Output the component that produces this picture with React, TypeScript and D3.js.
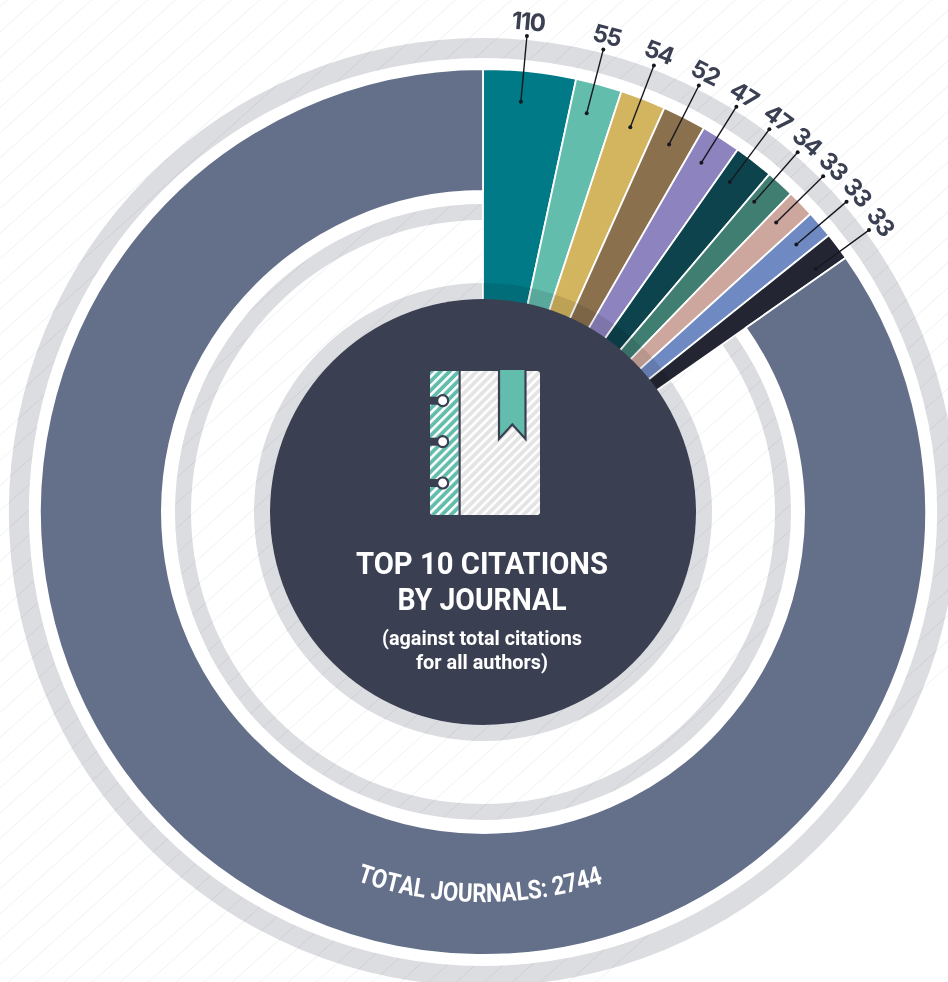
import React from "react";
import * as d3 from "d3";

const journalCounts = [110, 55, 54, 52, 47, 47, 34, 33, 33, 33];
const otherCount = 2744;
const sliceColors = ["#007a87", "#62bdad", "#d3b560", "#8b704e", "#8d84bf", "#0d434d", "#417e72", "#cda69e", "#6f8ac2", "#232533"];
const otherColor = "#64708a";
const leaderNudge = [-0.8, -0.6, -0.25, -0.2, -0.5, -0.9, -1.0, -0.5, 0, 0.7];
const titleLines = ["TOP 10 CITATIONS", "BY JOURNAL"];
const titleWidths = [252, 169];
const subLines = ["(against total citations", "for all authors)"];
const subWidths = [200, 132];
const totalLabel = "TOTAL JOURNALS: 2744";

const W = 948, H = 982, CX = 483, CY = 512;
const rad = (d: number) => (d * Math.PI) / 180;
const CONDENSED = "Roboto, sans-serif";

function arcChars(label: string, r: number, fromDeg: number, toDeg: number, size: number) {
  const ctx = document.createElement("canvas").getContext("2d")!;
  ctx.font = `700 ${size}px Roboto`;
  const widths = Array.from(label).map((c) => ctx.measureText(c).width);
  const total = d3.sum(widths);
  const arcLen = rad(toDeg - fromDeg) * r;
  const s = arcLen / total;
  let cum = 0;
  return Array.from(label).map((c, i) => {
    const mid = cum + (widths[i] * s) / 2;
    cum += widths[i] * s;
    const th = fromDeg + ((toDeg - fromDeg) * mid) / arcLen;
    return { c, s, th, x: CX + r * Math.sin(rad(th)), y: CY + r * Math.cos(rad(th)) };
  });
}

export default function App() {
  const pie = d3.pie<number>().sort(null).startAngle(0).endAngle(rad(357.9));
  const arcs = pie([...journalCounts, otherCount]);
  const arcGen = d3.arc<any>();
  const top = arcs.slice(0, 10);
  const rest = { ...arcs[10], endAngle: 2 * Math.PI };
  const ring = (a: number, b: number) => arcGen({ innerRadius: a, outerRadius: b, startAngle: 0, endAngle: 2 * Math.PI })!;
  const midDeg = (a: any) => (((a.startAngle + a.endAngle) / 2) * 180) / Math.PI;
  const polar = (r: number, d: number) => [r * Math.sin(rad(d)), -r * Math.cos(rad(d))];
  const hatch: number[] = d3.range(-25, 60).map((k) => 32 + 25.2 * k);
  const chars = arcChars(totalLabel, 390, -18.9, 18, 26);
  const multiply = { mixBlendMode: "multiply" as const };
  return (
    <svg width={W} height={H} viewBox={`0 0 ${W} ${H}`} style={{ position: "absolute", left: 0, top: 0, background: "#fff" }}>
      <defs>
        <pattern id="pm" width="6.4" height="6.4" patternUnits="userSpaceOnUse" patternTransform="rotate(45)">
          <rect width="6.4" height="6.4" fill="#62bdad" />
          <rect width="2.6" height="6.4" fill="#fff" />
        </pattern>
        <pattern id="pg" width="6.4" height="6.4" patternUnits="userSpaceOnUse" patternTransform="rotate(45)">
          <rect width="6.4" height="6.4" fill="#e4e4e5" />
          <rect width="2.6" height="6.4" fill="#fff" />
        </pattern>
      </defs>
      <rect width={W} height={H} fill="#fff" />
      <g stroke="#eef0f2" strokeWidth={1}>
        {hatch.map((c) => <line key={c} x1={0} y1={c} x2={W} y2={c - 0.9 * W} />)}
      </g>
      <g transform={`translate(${CX},${CY})`}>
        <path d={ring(442, 454)} fill="#fff" />
        <path d={ring(454, 474)} fill="#dcdde1" style={multiply} />
        <path d={ring(308, 442)} fill="#fff" />
        <path d={ring(292, 308)} fill="#dcdde1" style={multiply} />
        <path d={ring(213, 229)} fill="#dcdde1" style={multiply} />
        {top.map((a, i) => (
          <path key={i} d={arcGen({ ...a, innerRadius: 200, outerRadius: 443 })!} fill={sliceColors[i]} stroke="#fff" strokeWidth={1.8} />
        ))}
        <path d={arcGen({ ...rest, innerRadius: 321, outerRadius: 443 })!} fill={otherColor} stroke="#fff" strokeWidth={1.8} />
        <path d={arcGen({ innerRadius: 213, outerRadius: 229, startAngle: top[0].startAngle, endAngle: top[9].endAngle })!} fill="#000" fillOpacity={0.1} />
        <circle r={213} fill="#3b3f52" />
        {top.map((a, i) => {
          const d = midDeg(a) + leaderNudge[i];
          const [x1, y1] = polar(412, d);
          const [x2, y2] = polar(478, d);
          const [tx, ty] = polar(484, d);
          return (
            <g key={i}>
              <line x1={x1} y1={y1} x2={x2} y2={y2} stroke="#17181f" strokeWidth={1.4} />
              <circle cx={x1} cy={y1} r={2} fill="#17181f" />
              <circle cx={x2} cy={y2} r={2} fill="#17181f" />
              <text transform={`translate(${tx},${ty}) rotate(${d})`} textAnchor="middle" fontFamily="Inter" fontWeight={700} fontSize={24} letterSpacing={-1.2} fill="#3b3f52">{journalCounts[i]}</text>
            </g>
          );
        })}
      </g>
      <g>
        <rect x={430} y={371} width={110} height={144} rx={3} fill="url(#pg)" />
        <path d="M433 371 H458.5 V515 H433 a3 3 0 0 1 -3 -3 V374 a3 3 0 0 1 3 -3 Z" fill="url(#pm)" />
        <rect x={458.5} y={371} width={2.2} height={144} fill="#3b3f52" />
        <path d="M499 369 V439 L512.3 424.5 L525.5 439 V369 Z" fill="#62bdad" stroke="#3b3f52" strokeWidth={2.2} />
        {[400.7, 441.7, 483].map((y) => (
          <g key={y}>
            <rect x={430} y={y - 4} width={12} height={8} fill="#3b3f52" />
            <circle cx={442.7} cy={y} r={5.5} fill="#fff" stroke="#3b3f52" strokeWidth={2.2} />
          </g>
        ))}
      </g>
      <g fill="#fff" textAnchor="middle" fontFamily={CONDENSED} fontWeight={700}>
        {titleLines.map((t, i) => <text key={t} x={482} y={574 + i * 35.5} fontSize={32} textLength={titleWidths[i]} lengthAdjust="spacingAndGlyphs">{t}</text>)}
        {subLines.map((t, i) => <text key={t} x={482} y={645 + i * 23.5} fontSize={20} textLength={subWidths[i]} lengthAdjust="spacingAndGlyphs">{t}</text>)}
      </g>
      <g fill="#fff" fontFamily={CONDENSED} fontWeight={700} fontSize={26} textAnchor="middle">
        {chars.map((ch, i) => (
          <text key={i} transform={`translate(${ch.x},${ch.y}) rotate(${-ch.th}) scale(${ch.s},1)`}>{ch.c}</text>
        ))}
      </g>
    </svg>
  );
}
